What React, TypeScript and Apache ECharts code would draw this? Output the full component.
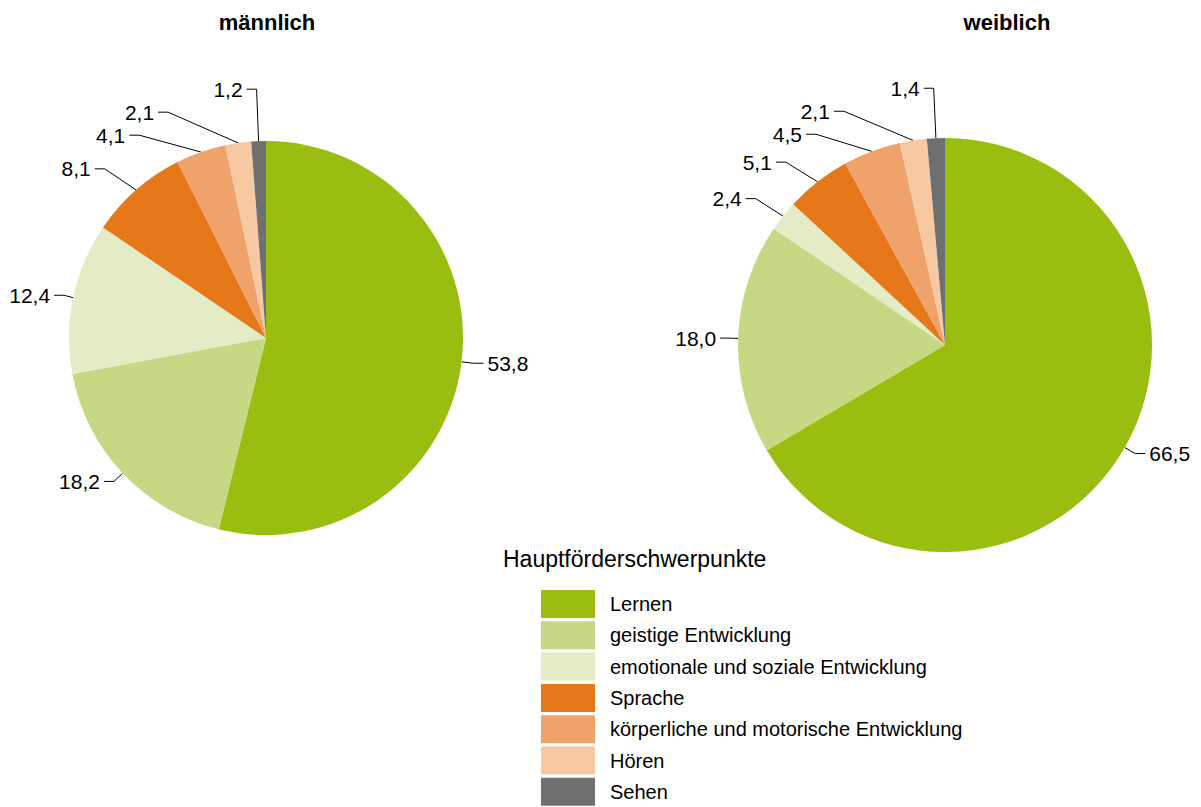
import React, { useEffect, useRef } from "react";
import * as echarts from "echarts";

const categories = [
  "Lernen",
  "geistige Entwicklung",
  "emotionale und soziale Entwicklung",
  "Sprache",
  "körperliche und motorische Entwicklung",
  "Hören",
  "Sehen",
];
const maleValues = [53.8, 18.2, 12.4, 8.1, 4.1, 2.1, 1.2];
const femaleValues = [66.5, 18.0, 2.4, 5.1, 4.5, 2.1, 1.4];
const colors = ["#99BE0F", "#C5D985", "#E3ECC6", "#E67819", "#EFA36B", "#F6C9A3", "#706F6F"];
const titles = ["männlich", "weiblich"];
const legendTitle = "Hauptförderschwerpunkte";

const FONT = "'Liberation Sans', Arial, sans-serif";

export default function App() {
  const ref = useRef<HTMLDivElement>(null);
  useEffect(() => {
    document.body.style.margin = "0";
    const chart = echarts.init(ref.current!, null, { renderer: "svg" });
    const fmt = (p: any) => Number(p.value).toFixed(1).replace(".", ",");
    const mkSeries = (name: string, values: number[], center: number[], radius: number, lineLens: number[]) => ({
      type: "pie",
      name,
      center,
      radius,
      startAngle: 90,
      clockwise: true,
      data: categories.map((c, i) => ({
        name: c,
        value: values[i],
        labelLine: { length: lineLens[i], length2: 10 },
      })),
      label: {
        show: true,
        position: "outside",
        formatter: fmt,
        color: "#000",
        fontFamily: FONT,
        fontSize: 21,
        overflow: "none",
        distanceToLabelLine: 4,
      },
      labelLine: { show: true, length: 12, length2: 10, lineStyle: { color: "#000", width: 1 } },
      itemStyle: { borderWidth: 0 },
      emphasis: { disabled: true },
    });
    chart.setOption({
      animation: false,
      color: colors,
      textStyle: { fontFamily: FONT },
      title: [
        { text: titles[0], left: 262, top: 6, textAlign: "center", textStyle: { fontFamily: FONT, fontWeight: "bold", fontSize: 22, color: "#000" } },
        { text: titles[1], left: 1002, top: 6, textAlign: "center", textStyle: { fontFamily: FONT, fontWeight: "bold", fontSize: 22, color: "#000" } },
      ],
      graphic: [
        {
          type: "text",
          left: 503,
          top: 547,
          style: { text: legendTitle, fontFamily: FONT, fontSize: 23, fill: "#000" },
        },
      ],
      legend: {
        data: categories,
        orient: "vertical",
        left: 541,
        top: 590,
        padding: 0,
        itemWidth: 54,
        itemHeight: 28,
        itemGap: 3.3,
        icon: "rect",
        selectedMode: false,
        textStyle: { fontFamily: FONT, fontSize: 20, color: "#000", padding: [0, 0, 0, 10] },
      },
      series: [
        mkSeries(titles[0], maleValues, [266, 338], 197, [12, 12, 12, 28, 28, 44, 52]),
        mkSeries(titles[1], femaleValues, [945, 345], 207, [12, 12, 28, 25, 25, 45, 50]),
      ],
    });
    return () => chart.dispose();
  }, []);
  return <div ref={ref} style={{ width: 1201, height: 807 }} />;
}
